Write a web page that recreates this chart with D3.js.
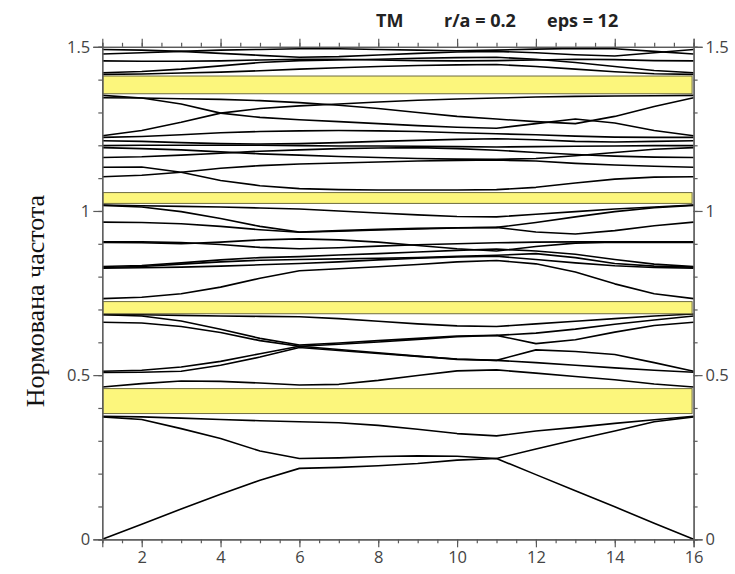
<!DOCTYPE html>
<html>
<head>
<meta charset="utf-8">
<script src="https://cdn.jsdelivr.net/npm/d3@7"></script>
<style>
  body { margin: 0; background: #fff; }
  svg { display: block; }
</style>
</head>
<body>
<svg id="chart" width="735" height="574"></svg>
<script>
// k-point index along the path
const kIndex = [1, 2, 3, 4, 5, 6, 7, 8, 9, 10, 11, 12, 13, 14, 15, 16];

// photonic bands (normalized frequency at each k-point)
const band01 = [0, 0.046, 0.092, 0.137, 0.18, 0.216, 0.219, 0.224, 0.231, 0.241, 0.246, 0.197, 0.148, 0.099, 0.049, 0];
const band02 = [0.373, 0.365, 0.337, 0.307, 0.269, 0.246, 0.248, 0.252, 0.254, 0.253, 0.246, 0.275, 0.303, 0.330, 0.358, 0.373];
const band03 = [0.375, 0.373, 0.369, 0.365, 0.361, 0.358, 0.355, 0.347, 0.335, 0.322, 0.315, 0.330, 0.341, 0.353, 0.364, 0.375];
const band04 = [0.464, 0.474, 0.482, 0.481, 0.476, 0.470, 0.472, 0.484, 0.499, 0.513, 0.516, 0.506, 0.496, 0.486, 0.473, 0.464];
const band05 = [0.508, 0.509, 0.512, 0.530, 0.555, 0.584, 0.575, 0.566, 0.557, 0.549, 0.545, 0.538, 0.530, 0.522, 0.515, 0.509];
const band06 = [0.512, 0.515, 0.525, 0.542, 0.565, 0.588, 0.578, 0.568, 0.558, 0.548, 0.545, 0.577, 0.572, 0.563, 0.538, 0.512];
const band07 = [0.661, 0.659, 0.648, 0.630, 0.605, 0.588, 0.594, 0.601, 0.609, 0.617, 0.621, 0.596, 0.608, 0.631, 0.651, 0.661];
const band08 = [0.684, 0.680, 0.665, 0.640, 0.612, 0.592, 0.598, 0.605, 0.612, 0.619, 0.621, 0.628, 0.640, 0.655, 0.668, 0.680];
const band09 = [0.685, 0.684, 0.682, 0.680, 0.679, 0.678, 0.672, 0.664, 0.656, 0.650, 0.648, 0.656, 0.664, 0.672, 0.680, 0.686];
const band10 = [0.733, 0.737, 0.748, 0.768, 0.795, 0.818, 0.824, 0.830, 0.837, 0.845, 0.849, 0.839, 0.814, 0.778, 0.748, 0.733];
const band11 = [0.826, 0.827, 0.829, 0.832, 0.836, 0.840, 0.845, 0.851, 0.856, 0.860, 0.862, 0.852, 0.842, 0.833, 0.828, 0.826];
const band12 = [0.828, 0.831, 0.838, 0.845, 0.850, 0.852, 0.854, 0.856, 0.858, 0.862, 0.865, 0.870, 0.858, 0.840, 0.832, 0.829];
const band13 = [0.831, 0.834, 0.842, 0.851, 0.858, 0.861, 0.866, 0.870, 0.875, 0.880, 0.884, 0.878, 0.868, 0.852, 0.838, 0.831];
const band14 = [0.904, 0.903, 0.900, 0.905, 0.912, 0.915, 0.912, 0.905, 0.895, 0.885, 0.878, 0.892, 0.902, 0.905, 0.904, 0.904];
const band15 = [0.906, 0.906, 0.904, 0.898, 0.889, 0.885, 0.888, 0.893, 0.897, 0.900, 0.903, 0.905, 0.906, 0.906, 0.906, 0.906];
const band16 = [0.966, 0.965, 0.961, 0.953, 0.943, 0.935, 0.938, 0.942, 0.945, 0.948, 0.950, 0.936, 0.930, 0.940, 0.955, 0.966];
const band17 = [1.017, 1.012, 0.998, 0.977, 0.953, 0.936, 0.940, 0.944, 0.947, 0.949, 0.950, 0.965, 0.982, 0.998, 1.010, 1.017];
const band18 = [1.018, 1.016, 1.014, 1.012, 1.009, 1.006, 1.000, 0.994, 0.988, 0.983, 0.982, 0.990, 0.998, 1.006, 1.012, 1.018];
const band19 = [1.133, 1.134, 1.118, 1.093, 1.077, 1.068, 1.065, 1.064, 1.064, 1.064, 1.065, 1.072, 1.085, 1.097, 1.103, 1.104];
const band20 = [1.104, 1.109, 1.118, 1.130, 1.138, 1.143, 1.146, 1.149, 1.152, 1.154, 1.155, 1.152, 1.145, 1.140, 1.136, 1.133];
const band21 = [1.163, 1.165, 1.170, 1.176, 1.182, 1.186, 1.190, 1.192, 1.193, 1.190, 1.185, 1.178, 1.172, 1.167, 1.164, 1.163];
const band22 = [1.193, 1.190, 1.186, 1.180, 1.174, 1.170, 1.166, 1.163, 1.160, 1.158, 1.157, 1.160, 1.168, 1.178, 1.188, 1.193];
const band23 = [1.199, 1.200, 1.200, 1.200, 1.200, 1.199, 1.198, 1.198, 1.197, 1.196, 1.195, 1.196, 1.197, 1.198, 1.199, 1.199];
const band24 = [1.214, 1.212, 1.208, 1.205, 1.204, 1.205, 1.208, 1.212, 1.215, 1.218, 1.220, 1.217, 1.212, 1.210, 1.212, 1.214];
const band25 = [1.224, 1.227, 1.232, 1.238, 1.242, 1.244, 1.245, 1.244, 1.242, 1.238, 1.235, 1.232, 1.228, 1.225, 1.224, 1.224];
const band26 = [1.352, 1.344, 1.326, 1.298, 1.285, 1.278, 1.272, 1.266, 1.260, 1.255, 1.252, 1.266, 1.280, 1.268, 1.245, 1.229];
const band27 = [1.229, 1.245, 1.270, 1.298, 1.312, 1.320, 1.326, 1.332, 1.337, 1.341, 1.344, 1.347, 1.349, 1.350, 1.351, 1.352];
const band28 = [1.345, 1.344, 1.342, 1.340, 1.336, 1.330, 1.322, 1.312, 1.300, 1.288, 1.280, 1.272, 1.266, 1.288, 1.318, 1.345];
const band29 = [1.416, 1.417, 1.420, 1.423, 1.427, 1.432, 1.436, 1.440, 1.443, 1.445, 1.446, 1.440, 1.432, 1.424, 1.418, 1.416];
const band30 = [1.421, 1.425, 1.432, 1.442, 1.452, 1.458, 1.460, 1.462, 1.465, 1.467, 1.468, 1.462, 1.452, 1.440, 1.428, 1.421];
const band31 = [1.457, 1.456, 1.456, 1.457, 1.460, 1.462, 1.462, 1.460, 1.458, 1.457, 1.458, 1.460, 1.462, 1.461, 1.458, 1.457];
const band32 = [1.478, 1.482, 1.486, 1.490, 1.492, 1.494, 1.494, 1.492, 1.490, 1.488, 1.490, 1.493, 1.495, 1.494, 1.486, 1.478];
const band33 = [1.492, 1.490, 1.486, 1.480, 1.474, 1.468, 1.470, 1.475, 1.480, 1.484, 1.486, 1.482, 1.476, 1.472, 1.482, 1.492];

// photonic band gaps (yellow strips)
const gapLow  = [0.383, 0.687, 1.023, 1.357];
const gapHigh = [0.459, 0.724, 1.056, 1.411];

// tick labels
const xTickLabels = [2, 4, 6, 8, 10, 12, 14, 16];
const yTickLabels = [0, 0.5, 1, 1.5];

const bands = [band01, band02, band03, band04, band05, band06, band07, band08, band09, band10,
  band11, band12, band13, band14, band15, band16, band17, band18, band19, band20,
  band21, band22, band23, band24, band25, band26, band27, band28, band29, band30,
  band31, band32, band33];

const svg = d3.select('#chart');
const margin = { top: 46.8, right: 41.4, bottom: 34.7, left: 102.3 };
const width = +svg.attr('width') - margin.left - margin.right;
const height = +svg.attr('height') - margin.top - margin.bottom;
const axisColor = '#5a5a5a';
const labelColor = '#444';

const x = d3.scaleLinear().domain([1, 16]).range([0, width]);
const y = d3.scaleLinear().domain([0, 1.5]).range([height, 0]);

const g = svg.append('g').attr('transform', `translate(${margin.left},${margin.top})`);

// band lines
const line = d3.line()
  .x((d, i) => x(kIndex[i]))
  .y(d => y(d));

g.selectAll('path.band')
  .data(bands)
  .enter().append('path')
  .attr('class', 'band')
  .attr('fill', 'none')
  .attr('stroke', '#000')
  .attr('stroke-width', 1.6)
  .attr('stroke-linejoin', 'round')
  .attr('d', line);

// gaps
g.selectAll('rect.gap')
  .data(gapLow)
  .enter().append('rect')
  .attr('class', 'gap')
  .attr('x', x(1) + 0.5)
  .attr('width', x(16) - x(1) - 2)
  .attr('y', (d, i) => y(gapHigh[i]))
  .attr('height', (d, i) => y(d) - y(gapHigh[i]))
  .attr('fill', '#fcf67c')
  .attr('stroke', '#6e6c40')
  .attr('stroke-width', 1);

// axes
const minorY = d3.range(0, 1.5001, 0.1);
const minorX = d3.range(1, 16.001, 0.5);

function styleAxis(sel) {
  sel.select('.domain').attr('stroke', axisColor).attr('stroke-width', 1.2);
  sel.selectAll('.tick line').attr('stroke', axisColor).attr('stroke-width', 1.2);
  sel.selectAll('.tick text')
    .attr('fill', labelColor)
    .style('font-family', '"Open Sans", "DejaVu Sans", sans-serif')
    .style('font-size', '16.5px');
}

g.append('g')
  .call(d3.axisLeft(y).tickValues(minorY).tickSize(4).tickFormat(''))
  .call(styleAxis);
g.append('g')
  .call(d3.axisLeft(y).tickValues(yTickLabels).tickSize(9).tickPadding(3).tickFormat(d3.format('')))
  .call(styleAxis);

g.append('g')
  .attr('transform', `translate(${width},0)`)
  .call(d3.axisRight(y).tickValues(minorY).tickSize(4).tickFormat(''))
  .call(styleAxis);
g.append('g')
  .attr('transform', `translate(${width},0)`)
  .call(d3.axisRight(y).tickValues(yTickLabels).tickSize(9).tickPadding(3).tickFormat(d3.format('')))
  .call(styleAxis);

g.append('g')
  .attr('transform', `translate(0,${height})`)
  .call(d3.axisBottom(x).tickValues(minorX).tickSize(4).tickFormat(''))
  .call(styleAxis);
g.append('g')
  .attr('transform', `translate(0,${height})`)
  .call(d3.axisBottom(x).tickValues(xTickLabels).tickSize(8).tickPadding(4).tickFormat(d3.format('d')))
  .call(styleAxis);

g.append('g')
  .call(d3.axisTop(x).tickValues(minorX).tickSize(4).tickFormat(''))
  .call(styleAxis);
g.append('g')
  .call(d3.axisTop(x).tickValues(xTickLabels).tickSize(8).tickFormat(''))
  .call(styleAxis);

// title
const titleParts = [
  { text: 'TM', x: 376 },
  { text: 'r/a = 0.2', x: 444 },
  { text: 'eps = 12', x: 547 }
];
svg.selectAll('text.title')
  .data(titleParts)
  .enter().append('text')
  .attr('class', 'title')
  .attr('x', d => d.x)
  .attr('y', 27)
  .attr('fill', '#222')
  .style('font-family', '"Open Sans", "DejaVu Sans", sans-serif')
  .style('font-weight', 'bold')
  .style('font-size', '18px')
  .text(d => d.text);

// y axis label
svg.append('text')
  .attr('transform', 'translate(44,301) rotate(-90)')
  .attr('text-anchor', 'middle')
  .attr('fill', '#111')
  .style('font-family', '"Liberation Serif", "Times New Roman", serif')
  .style('font-size', '26px')
  .text('Нормована частота');
</script>
</body>
</html>
